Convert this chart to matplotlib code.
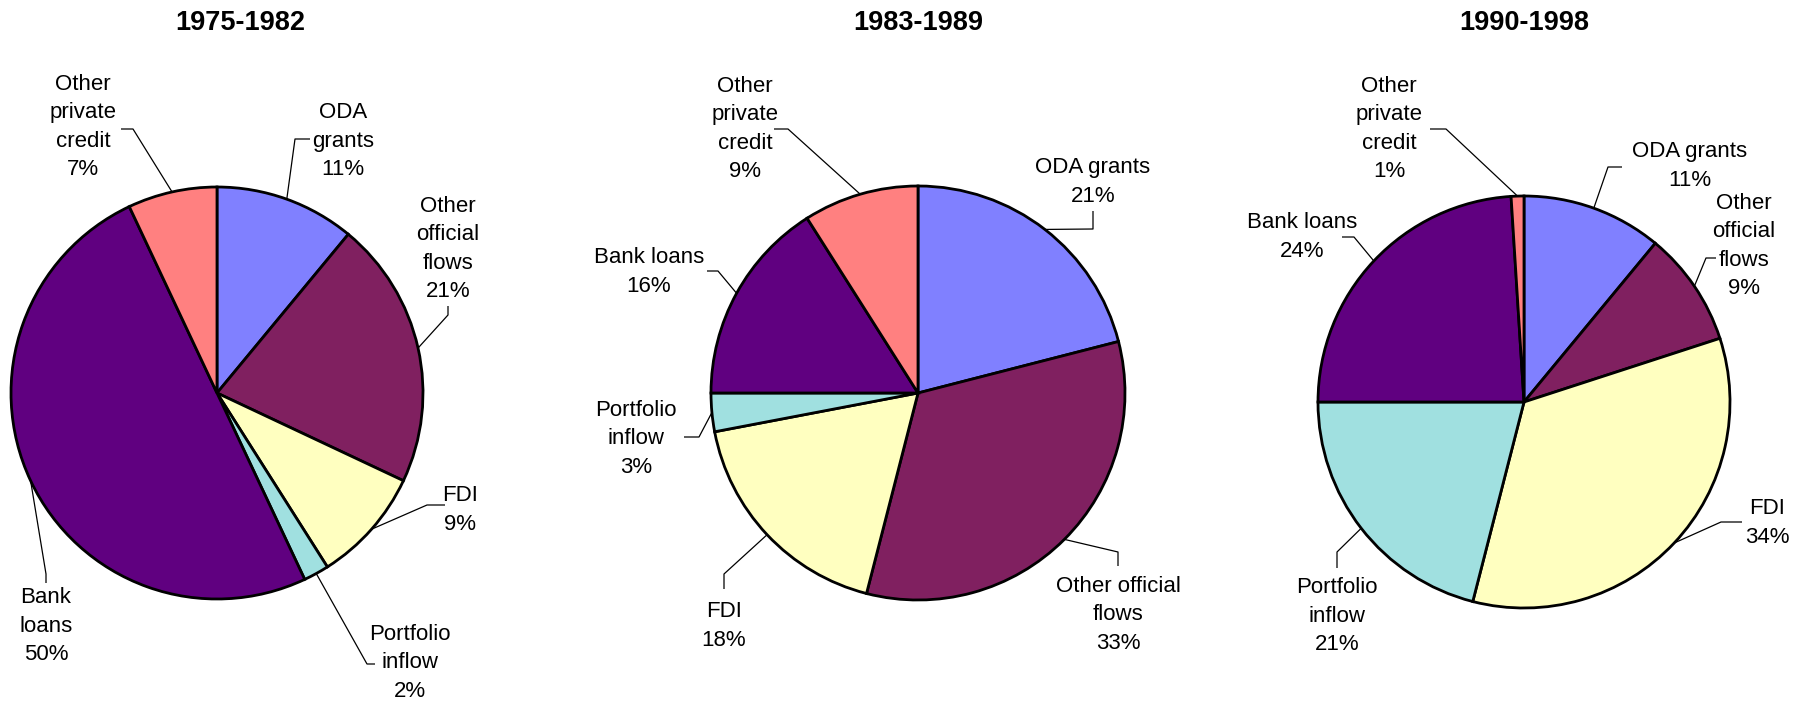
import matplotlib.pyplot as plt
import numpy as np

plt.rcParams['font.family'] = ['Liberation Sans', 'DejaVu Sans']

# data
periods = ["1975-1982", "1983-1989", "1990-1998"]
categories = ["ODA grants", "Other official flows", "FDI",
              "Portfolio inflow", "Bank loans", "Other private credit"]
shares_1975 = [11, 21, 9, 2, 50, 7]
shares_1983 = [21, 33, 18, 3, 16, 9]
shares_1990 = [11, 9, 34, 21, 24, 1]
colors = ["#8080FF", "#802060", "#FFFFC0", "#A0E0E0", "#600080", "#FF8080"]

# label texts per pie (line breaks as in the original)
names_1975 = ["ODA\ngrants", "Other\nofficial\nflows", "FDI",
              "Portfolio\ninflow", "Bank\nloans", "Other\nprivate\ncredit"]
names_1983 = ["ODA grants", "Other official\nflows", "FDI",
              "Portfolio\ninflow", "Bank loans", "Other\nprivate\ncredit"]
names_1990 = ["ODA grants", "Other\nofficial\nflows", "FDI",
              "Portfolio\ninflow", "Bank loans", "Other\nprivate\ncredit"]

W, H = 1811, 705

# layout in pixels (y measured from top): centre, radius, title
pies = [
    dict(c=(217, 393), r=206, title=(240, 23), shares=shares_1975, names=names_1975,
         # text centre, elbow, stub end
         lab=[((343, 141), (295, 139), (310, 139)),
              ((448, 249), (448, 315), (448, 306)),
              ((460, 510), (427, 505), (445, 505)),
              ((410, 663), (367, 664), (375, 664)),
              ((46, 626), (46, 574), (46, 583)),
              ((83, 127), (133, 129), (121, 129))]),
    dict(c=(918, 393), r=207, title=(918, 23), shares=shares_1983, names=names_1983,
         lab=[((1093, 182), (1093, 229), (1093, 211)),
              ((1118, 615), (1118, 552), (1118, 566)),
              ((724, 626), (724, 574), (724, 589)),
              ((636, 439), (699, 437), (684, 437)),
              ((649, 272), (718, 271), (707, 271)),
              ((745, 129), (788, 129), (774, 129))]),
    dict(c=(1524, 402), r=206, title=(1524, 23), shares=shares_1990, names=names_1990,
         lab=[((1690, 166), (1608, 167), (1622, 167)),
              ((1744, 246), (1706, 258), (1716, 258)),
              ((1767, 523), (1721, 522), (1742, 522)),
              ((1337, 616), (1337, 552), (1337, 568)),
              ((1302, 237), (1354, 237), (1342, 237)),
              ((1389, 129), (1446, 129), (1430, 129))]),
]

fig = plt.figure(figsize=(W / 100, H / 100), dpi=100)
ax = fig.add_axes([0, 0, 1, 1])

for period, p in zip(periods, pies):
    cx, cy = p["c"][0], H - p["c"][1]
    r = p["r"]
    wedges, _ = ax.pie(p["shares"], colors=colors, startangle=90, counterclock=False,
                       center=(cx, cy), radius=r, frame=True,
                       wedgeprops=dict(edgecolor="black", linewidth=2))
    ax.text(p["title"][0], H - p["title"][1], period, ha="center", va="center",
            fontsize=19.5, fontweight="bold")
    for w, name, share, (tpos, elbow, stub) in zip(wedges, p["names"], p["shares"], p["lab"]):
        mid = np.deg2rad((w.theta1 + w.theta2) / 2)
        ex, ey = cx + r * np.cos(mid), cy + r * np.sin(mid)
        ax.plot([ex, elbow[0], stub[0]], [ey, H - elbow[1], H - stub[1]],
                color="black", lw=0.9, solid_capstyle="butt")
        ax.text(tpos[0], H - tpos[1], f"{name}\n{share}%", ha="center", va="center",
                fontsize=16, linespacing=1.45, multialignment="center")

ax.set_xlim(0, W)
ax.set_ylim(0, H)
ax.set_aspect('equal')
ax.axis('off')
fig.savefig("out.png", dpi=100)
